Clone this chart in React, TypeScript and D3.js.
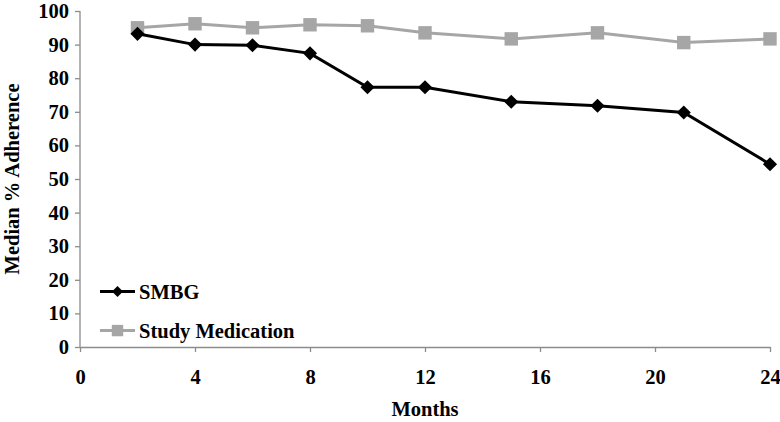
import { useEffect, useRef } from "react"
import * as d3 from "d3"

const months = [2, 4, 6, 8, 10, 12, 15, 18, 21, 24]
const smbg = [93.2, 90.0, 89.8, 87.4, 77.3, 77.3, 73.0, 71.8, 69.8, 54.4]
const studyMed = [95.0, 96.2, 95.0, 95.9, 95.6, 93.5, 91.7, 93.5, 90.6, 91.7]
const xTicks = [0, 4, 8, 12, 16, 20, 24]
const yTicks = [0, 10, 20, 30, 40, 50, 60, 70, 80, 90, 100]

const font = "'Liberation Serif', 'DejaVu Serif', serif"
const fontSize = "20.5px"

export default function App() {
  const svgRef = useRef<SVGSVGElement>(null)

  useEffect(() => {
    if (!svgRef.current) return
    const svg = d3.select(svgRef.current)
    svg.selectAll("*").remove()

    const width = 780
    const height = 422
    const margin = { top: 11, right: 10, bottom: 75, left: 80 }
    const innerWidth = width - margin.left - margin.right
    const innerHeight = height - margin.top - margin.bottom

    const x = d3.scaleLinear().domain([0, 24]).range([0, innerWidth])
    const y = d3.scaleLinear().domain([0, 100]).range([innerHeight, 0])

    const g = svg.append("g").attr("transform", `translate(${margin.left}, ${margin.top})`)

    // axes
    const xAxis = g
      .append("g")
      .attr("transform", `translate(0, ${innerHeight})`)
      .call(d3.axisBottom(x).tickValues(xTicks).tickSize(5).tickSizeOuter(0).tickPadding(17))
    const yAxis = g.append("g").call(d3.axisLeft(y).tickValues(yTicks).tickSize(5).tickSizeOuter(0).tickPadding(6))

    for (const ax of [xAxis, yAxis]) {
      ax.selectAll("path, line").attr("stroke", "#8c8c8c").attr("stroke-width", 1.3)
      ax.selectAll("text")
        .attr("fill", "#000")
        .attr("font-family", font)
        .attr("font-weight", "bold")
        .attr("font-size", fontSize)
    }
    yAxis.select(".domain").attr("d", `M0,0V${innerHeight}`)

    // diamond = square turned by 45 degrees
    const series = [
      { name: "SMBG", values: smbg, color: "#000000", size: 100, rotate: 45 },
      { name: "Study Medication", values: studyMed, color: "#a6a6a6", size: 180, rotate: 0 },
    ]

    const line = d3
      .line<number>()
      .x((_, i) => x(months[i]))
      .y((d) => y(d))

    // gray first so black sits on top
    for (const s of [...series].reverse()) {
      g.append("path")
        .datum(s.values)
        .attr("fill", "none")
        .attr("stroke", s.color)
        .attr("stroke-width", 3)
        .attr("d", line)

      g.selectAll(null)
        .data(s.values)
        .enter()
        .append("path")
        .attr("transform", (d, i) => `translate(${x(months[i])}, ${y(d)}) rotate(${s.rotate})`)
        .attr("d", d3.symbol().type(d3.symbolSquare).size(s.size)())
        .attr("fill", s.color)
    }

    // legend
    const legend = g.append("g").attr("transform", `translate(20, ${y(16.5)})`)
    series.forEach((s, i) => {
      const row = legend.append("g").attr("transform", `translate(0, ${i * 39})`)
      row.append("line").attr("x1", 0).attr("x2", 35).attr("stroke", s.color).attr("stroke-width", 3)
      row
        .append("path")
        .attr("transform", `translate(17.5, 0) rotate(${s.rotate})`)
        .attr("d", d3.symbol().type(d3.symbolSquare).size(s.rotate ? 60 : 130)())
        .attr("fill", s.color)
      row
        .append("text")
        .attr("x", 39)
        .attr("y", 7)
        .attr("font-family", font)
        .attr("font-weight", "bold")
        .attr("font-size", fontSize)
        .text(s.name)
    })

    // axis titles
    svg
      .append("text")
      .attr("x", margin.left + innerWidth / 2)
      .attr("y", 416)
      .attr("text-anchor", "middle")
      .attr("font-family", font)
      .attr("font-weight", "bold")
      .attr("font-size", fontSize)
      .text("Months")

    svg
      .append("text")
      .attr("transform", `translate(19, ${margin.top + innerHeight / 2}) rotate(-90)`)
      .attr("text-anchor", "middle")
      .attr("font-family", font)
      .attr("font-weight", "bold")
      .attr("font-size", fontSize)
      .text("Median % Adherence")
  }, [])

  return (
    <svg
      ref={svgRef}
      width={780}
      height={422}
      style={{ position: "absolute", top: 0, left: 0, background: "#fff" }}
    />
  )
}
